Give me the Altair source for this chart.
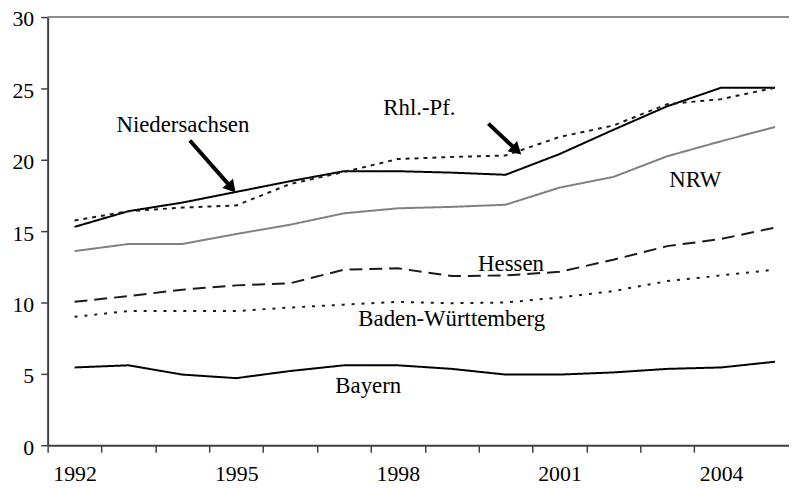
import altair as alt
import pandas as pd

# ---- data ----
years = list(range(1992, 2006))
label_years = [1992, 1995, 1998, 2001, 2004]

niedersachsen = [15.3, 16.4, 17.0, 17.75, 18.5, 19.2, 19.2, 19.1, 18.95, 20.4, 22.1, 23.75, 25.05, 25.05]
rhl_pf = [15.75, 16.4, 16.65, 16.8, 18.3, 19.15, 20.05, 20.2, 20.3, 21.6, 22.4, 23.9, 24.25, 25.05]
nrw = [13.6, 14.1, 14.1, 14.8, 15.45, 16.25, 16.6, 16.7, 16.85, 18.05, 18.8, 20.25, 21.3, 22.3]
hessen = [10.05, 10.45, 10.9, 11.2, 11.35, 12.3, 12.4, 11.85, 11.9, 12.15, 13.0, 13.95, 14.45, 15.25]
baden_wuerttemberg = [9.0, 9.4, 9.4, 9.4, 9.65, 9.85, 10.05, 9.95, 10.0, 10.35, 10.8, 11.5, 11.9, 12.3]
bayern = [5.45, 5.6, 4.95, 4.7, 5.2, 5.6, 5.6, 5.35, 4.95, 4.95, 5.1, 5.35, 5.45, 5.85]

series_names = ["Niedersachsen", "Rhl.-Pf.", "NRW", "Hessen", "Baden-Württemberg", "Bayern"]
series_values = [niedersachsen, rhl_pf, nrw, hessen, baden_wuerttemberg, bayern]
series_colors = ["#000000", "#1a1a1a", "#808080", "#1a1a1a", "#1a1a1a", "#000000"]
series_dashes = [[1, 0], [4, 5], [1, 0], [13, 7], [3, 7], [1, 0]]

# text labels placed in the plot
label_texts = ["Niedersachsen", "Rhl.-Pf.", "NRW", "Hessen", "Baden-Württemberg", "Bayern"]
label_x = [1994.01, 1998.4, 2003.52, 2000.1, 1999.0, 1997.45]
label_y = [21.97, 23.14, 18.1, 12.19, 8.32, 3.69]

# arrows (tail -> head)
arrow_tail_x = [1994.14, 1999.68]
arrow_tail_y = [21.35, 22.53]
arrow_head_x = [1994.89, 2000.18]
arrow_head_y = [18.14, 20.76]
arrow_angle = [139, 133]

FONT = "Liberation Serif"

rows = []
for name, vals in zip(series_names, series_values):
    for yr, v in zip(years, vals):
        rows.append({"year": yr, "value": v, "series": name})
df = pd.DataFrame(rows)

x_scale = alt.Scale(domain=[1991.5, 2005.26], nice=False, zero=False)
y_scale = alt.Scale(domain=[0, 30], nice=False, zero=True)

cond = " || ".join("datum.value + 0.5 == %d" % y for y in label_years)
label_expr = "(" + cond + ") ? format(datum.value + 0.5, 'd') : ''"

x_axis = alt.Axis(
    values=[y - 0.5 for y in years[:-1]],
    labelExpr=label_expr,
    labelOffset=27.2,
    labelFlush=False,
    labelOverlap=False,
    labelFont=FONT,
    labelFontSize=22,
    labelColor="#000000",
    labelPadding=12,
    tickSize=7,
    tickWidth=1.5,
    tickColor="#404040",
    domainColor="#404040",
    domainWidth=2,
    grid=False,
    title=None,
)
y_axis = alt.Axis(
    values=[0, 5, 10, 15, 20, 25, 30],
    labelFont=FONT,
    labelFontSize=22,
    labelColor="#000000",
    labelPadding=7,
    labelOffset=2,
    labelFlush=False,
    tickSize=7,
    tickWidth=1.5,
    tickColor="#404040",
    domainColor="#404040",
    domainWidth=2,
    grid=False,
    title=None,
)

frame = alt.Chart(pd.DataFrame({"top": [30]})).mark_rule(
    color="#8c8c8c", strokeWidth=2
).encode(y=alt.Y("top:Q", scale=y_scale, axis=y_axis))

lines = alt.Chart(df).mark_line(strokeWidth=2).encode(
    x=alt.X("year:Q", scale=x_scale, axis=x_axis),
    y=alt.Y("value:Q", scale=y_scale, axis=y_axis),
    color=alt.Color("series:N", scale=alt.Scale(domain=series_names, range=series_colors), legend=None),
    strokeDash=alt.StrokeDash("series:N", scale=alt.Scale(domain=series_names, range=series_dashes), legend=None),
    detail="series:N",
)

labels_df = pd.DataFrame({"x": label_x, "y": label_y, "text": label_texts})
labels = alt.Chart(labels_df).mark_text(
    font=FONT, fontSize=23, align="center", baseline="alphabetic", color="#000000"
).encode(
    x=alt.X("x:Q", scale=x_scale),
    y=alt.Y("y:Q", scale=y_scale),
    text="text:N",
)

arrows_df = pd.DataFrame({
    "x": arrow_tail_x, "y": arrow_tail_y,
    "x2": arrow_head_x, "y2": arrow_head_y,
    "angle": arrow_angle,
})
shafts = alt.Chart(arrows_df).mark_rule(color="#000000", strokeWidth=4).encode(
    x=alt.X("x:Q", scale=x_scale),
    y=alt.Y("y:Q", scale=y_scale),
    x2="x2:Q",
    y2="y2:Q",
)
heads = alt.Chart(arrows_df).mark_point(
    shape="triangle", filled=True, color="#000000", size=200, opacity=1
).encode(
    x=alt.X("x2:Q", scale=x_scale),
    y=alt.Y("y2:Q", scale=y_scale),
    angle=alt.Angle("angle:Q", scale=None),
)

chart = alt.layer(frame, lines, labels, shafts, heads).properties(
    width=748,
    height=432,
    autosize=alt.AutoSizeParams(type="none"),
    padding={"left": 40, "top": 7, "right": 0, "bottom": 40},
).configure_view(strokeWidth=0).configure(background="white")

chart.save("out.html", embed_options={"renderer": "svg", "actions": False})
